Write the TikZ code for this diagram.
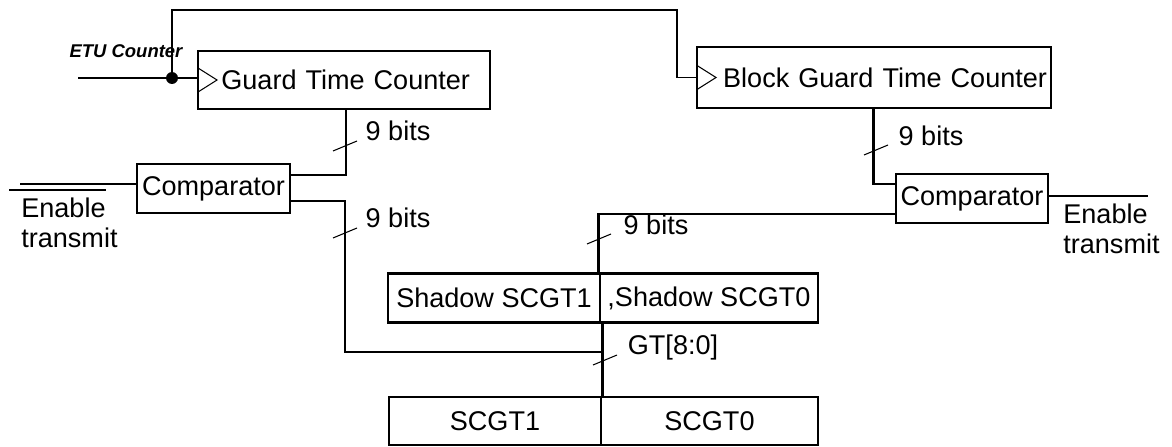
\documentclass[tikz,border=0pt]{standalone}
\usepackage{fontspec}
\setmainfont{Liberation Sans}
\usetikzlibrary{positioning,calc}

\begin{document}
\begin{tikzpicture}[x=0.02cm, y=-0.02cm,
  every node/.style={font=\fontsize{15.4}{17}\selectfont},
  blk/.style={draw, line width=1.2pt, inner sep=0pt, outer sep=0pt, minimum height=0.98cm},
  wire/.style={line width=1.1pt},
  bus/.style={line width=1.7pt},
  tck/.style={line width=0.6pt},
  clk/.style={line width=0.6pt}]
\useasboundingbox (0,0) rectangle (1172,446);
% counters
\node[blk, minimum width=5.84cm, minimum height=1.16cm, text width=5.04cm, inner xsep=0.4cm, align=right] (gtc) at (344,80) {Guard Time Counter};
\node[blk, minimum width=7.08cm, minimum height=1.22cm, text width=6.92cm, inner xsep=0.08cm, align=right] (bgtc) at (874,77.5) {Block Guard Time Counter};
\node[font=\fontsize{10.5}{12}\selectfont\bfseries\itshape] (etu) at (126,51) {ETU Counter};
% comparators
\node[blk, minimum width=3.06cm] (cmpL) at (213.5,188.5) {Comparator};
\node[blk, minimum width=3.04cm] (cmpR) at (972,198.5) {Comparator};
% registers
\node[blk, minimum width=4.24cm] (sh1) at (494,298) {Shadow SCGT1};
\node[blk, minimum width=4.36cm, right=0pt of sh1] (sh0) {,Shadow SCGT0};
\node[blk, minimum width=4.24cm, minimum height=0.96cm] (sc1) at (495,421) {SCGT1};
\node[blk, minimum width=4.34cm, minimum height=0.96cm, right=0pt of sc1] (sc0) {SCGT0};

% clock
\coordinate (clkin) at (78,78);
\coordinate (tap) at (172,78);
\coordinate (top) at (677,10);
\draw[wire] (clkin) -- (clkin -| gtc.west);
\draw[wire] (tap) |- (top) |- (bgtc.west);
\fill (tap) circle (0.12cm);
\draw[clk] ($(gtc.west)+(0,-12)$) -- ++(19,12) -- ++(-19,12);
\draw[clk] ($(bgtc.west)+(0,-12)$) -- ++(19,12) -- ++(-19,12);

% enable lines
\coordinate (enL) at (20,184);
\coordinate (enLb) at (9,190);
\coordinate (enLe) at (106,190);
\coordinate (enR) at (1148,196);
\draw[wire] (enL) -- (enL -| cmpL.west);
\draw[wire] (enLb) -- (enLe);
\draw[wire] (enR -| cmpR.east) -- (enR);
\node[align=left, anchor=west, inner sep=0pt] (txL) at (21,223) {Enable\\transmit};
\node[align=left, anchor=west, inner sep=0pt] (txR) at (1063,229) {Enable\\transmit};

% buses
\coordinate (a1) at (346,175);
\coordinate (a2) at (345,201);
\coordinate (a3) at (345,352);
\coordinate (gt) at (602,352);
\coordinate (b1) at (873,184);
\coordinate (c1) at (598,214);
\draw[bus] (gtc.south -| a1) -- (a1) -- (a1 -| cmpL.east);
\draw[bus] (a2 -| cmpL.east) -- (a2) -- (a3) -- (gt);
\draw[bus] (gt |- sh0.south) -- (gt |- sc0.north);
\draw[bus] (bgtc.south -| b1) -- (b1) -- (b1 -| cmpR.west);
\draw[bus] (c1 -| cmpR.west) -- (c1) -- (c1 |- sh1.north);
\foreach \t in {(345,146),(345,233),(876,150),(599,239),(605,360)}
  \draw[tck] \t ++(-12,5) -- ++(24,-10);

\node (w1) at (398,131) {9 bits};
\node (w2) at (398,218) {9 bits};
\node (w3) at (931,136) {9 bits};
\node (w4) at (656,225) {9 bits};
\node (w5) at (673,347) {GT[8:0]};
\end{tikzpicture}
\end{document}
